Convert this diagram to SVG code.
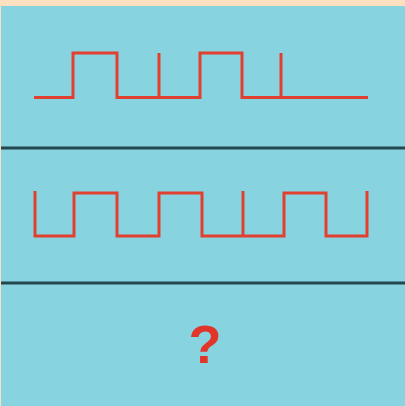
<svg xmlns="http://www.w3.org/2000/svg" width="405" height="406" viewBox="0 0 405 406">
<style>
.wave{fill:none;stroke:#e2402e;stroke-width:3;stroke-linejoin:miter;stroke-linecap:butt}
.div{stroke:#23474f;stroke-width:3}
.q{font-family:"Liberation Sans",Arial,sans-serif;font-weight:bold;font-size:54px;fill:#e2352a}
</style>
<rect x="0" y="0" width="405" height="406" fill="#fde0bf"/>
<rect x="1" y="6" width="404" height="400" fill="#88d3e0"/>
<g id="panel1">
<path class="wave" d="M34,97.5 H73 V53 H117 V97.5 H159 V53 V97.5 H200 V53 H242 V97.5 H281 V53 V97.5 H368"/>
</g>
<g id="connectors">
<line class="div" x1="1" y1="148" x2="405" y2="148"/>
<line class="div" x1="1" y1="283" x2="405" y2="283"/>
</g>
<g id="panel2">
<path class="wave" d="M35,191 V236 H74 V193 H117 V236 H159 V193 H202 V236 H243 V191 V236 H284 V193 H326 V236 H367 V191"/>
</g>
<g id="panel3">
<text class="q" x="205" y="363" text-anchor="middle">?</text>
</g>
</svg>
